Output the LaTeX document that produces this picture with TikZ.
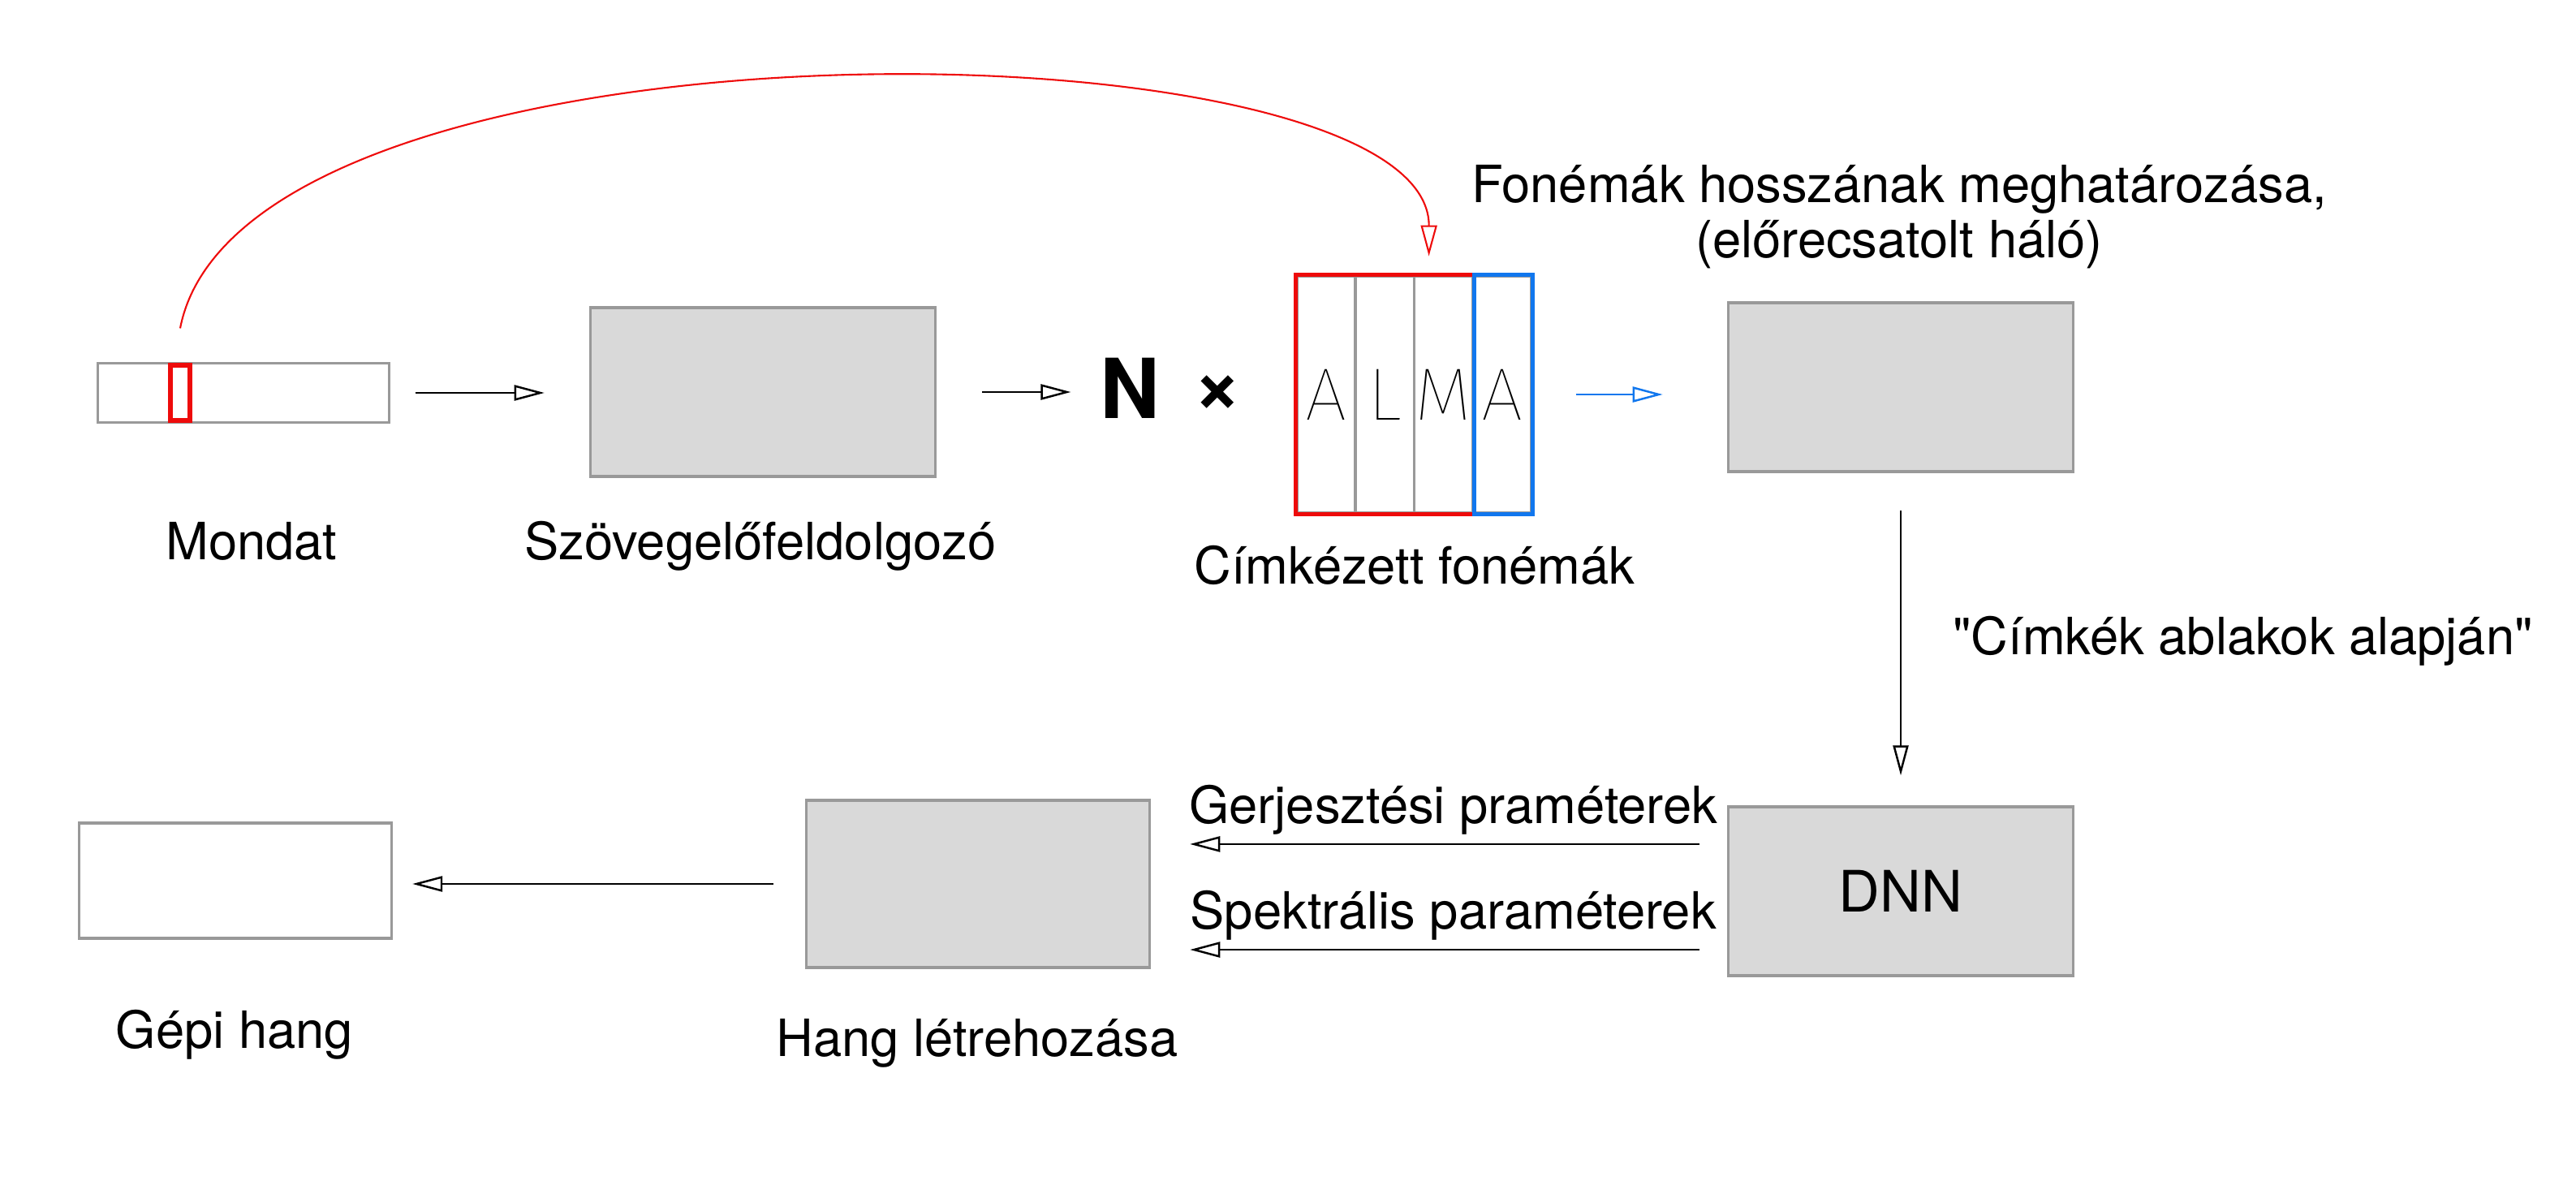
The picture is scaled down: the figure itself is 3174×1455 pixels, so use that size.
\documentclass[tikz,border=0pt]{standalone}
\usepackage{fontspec}
\setmainfont{TeX Gyre Heros}
\newfontfamily\vekonyfont{Fira Sans Thin}
\usetikzlibrary{arrows.meta}
\definecolor{piros}{HTML}{EE0B0B}
\definecolor{kek}{HTML}{1177EE}
\definecolor{keret}{HTML}{999999}
\definecolor{kitoltes}{HTML}{D9D9D9}

\begin{document}
\begin{tikzpicture}[x=0.01cm, y=-0.01cm,
    >={Triangle[open, length=0.37cm, width=0.19cm]},
    doboz/.style={draw=keret, line width=0.9pt, fill=kitoltes, inner sep=0pt,
        minimum width=4.25cm, minimum height=2.08cm},
    ures/.style={draw=keret, line width=0.9pt, fill=white, inner sep=0pt},
    cella/.style={draw=keret, line width=1pt, inner sep=0pt,
        minimum width=0.7225cm, minimum height=2.91cm,
        font=\vekonyfont\fontsize{26}{30}\selectfont},
    felirat/.style={anchor=base, font=\fontsize{18}{19.6}\selectfont},
    nyilfel/.style={above, inner sep=3pt, font=\fontsize{18}{21.6}\selectfont},
    nyil/.style={->, line width=0.7pt}]
    \useasboundingbox (0,0) rectangle (3174,1455);

    % 1. Mondat
    \node[ures, minimum width=3.58cm, minimum height=0.73cm] (mondat) at (300,484) {};
    \node[draw=piros, line width=1.6pt, inner sep=0pt,
        minimum width=0.244cm, minimum height=0.674cm] (betu) at (222,484) {};
    \node[felirat] (mondatfel) at (310,690) {Mondat};

    % 2. Szövegelőfeldolgozó
    \node[doboz] (szoveg) at (940,483) {};
    \node[felirat] (szovegfel) at (937,690) {Szövegelőfeldolgozó};

    % 3. N x
    \node[inner sep=0pt, font=\bfseries\fontsize{29}{34}\selectfont] (n) at (1392,478) {N};
    \node[inner sep=0pt, font=\bfseries\fontsize{29}{34}\selectfont] (szor) at (1500,486) {×};

    % 4. Címkézett fonémák
    \foreach \betu/\nev [count=\i] in {A/a1, L/l, M/m, A/a2}
        \node[cella] (\nev) at ({1598+72.25*(\i-0.5)},486) {\betu};
    \draw[piros, line width=1.5pt] (m.north east) -- (a1.north west)
        -- (a1.south west) -- (m.south east);
    \draw[kek, line width=1.5pt] ([xshift=1pt]a2.north west) rectangle (a2.south east);
    \node[felirat] (cimkefel) at (1743,720) {Címkézett fonémák};

    % 5. Fonémák hossza
    \node[doboz] (fonema) at (2342,477) {};
    \node[felirat, align=center] (fonemafel) at (2340,318)
        {Fonémák hosszának meghatározása,\\(előrecsatolt háló)};

    % 6. DNN
    \node[doboz, font=\fontsize{20}{24}\selectfont] (dnn) at (2342,1098) {DNN};
    \node[felirat, anchor=base west] (ablakfel) at (2394,807)
        {\textquotedbl Címkék ablakok alapján\textquotedbl};

    % 7. Hang létrehozása, Gépi hang
    \node[doboz, minimum width=4.23cm, minimum height=2.06cm] (hang) at (1205,1089) {};
    \node[felirat] (hangfel) at (1204,1301) {Hang létrehozása};
    \node[ures, minimum width=3.85cm, minimum height=1.42cm] (gepi) at (290,1085) {};
    \node[felirat] (gepifel) at (289,1291) {Gépi hang};

    % 8. Nyilak
    \draw[nyil, shorten <=0.31cm, shorten >=0.55cm] (mondat.east) -- (mondat.east -| szoveg.west);
    \draw[nyil, shorten <=0.56cm, shorten >=0.35cm] (szoveg.east) -- (szoveg.east -| n.west);
    \draw[nyil, kek, shorten <=0.53cm, shorten >=0.79cm] (a2.east) -- (a2.east -| fonema.west);
    \draw[nyil, shorten <=0.46cm, shorten >=0.37cm] (fonema.south) -- (dnn.north);
    \draw[nyil, shorten <=0.34cm, shorten >=0.48cm] ([yshift=0.58cm]dnn.west)
        -- ([yshift=0.58cm]dnn.west -| hang.east) node[nyilfel, pos=0.475] {Gerjesztési praméterek};
    \draw[nyil, shorten <=0.34cm, shorten >=0.48cm] ([yshift=-0.72cm]dnn.west)
        -- ([yshift=-0.72cm]dnn.west -| hang.east) node[nyilfel, pos=0.475] {Spektrális paraméterek};
    \draw[nyil, shorten <=0.39cm, shorten >=0.24cm] (hang.west) -- (hang.west -| gepi.east);

    % 9. Piros ív
    \coordinate (indul) at ([yshift=0.43cm]betu.north);
    \coordinate (cel) at ([xshift=-0.18cm, yshift=0.23cm]m.north);
    \draw[piros, line width=0.6pt, ->, >={Triangle[open, length=0.38cm, width=0.2cm]}]
        (indul) .. controls (300,0) and (1761,20) .. (cel);
\end{tikzpicture}
\end{document}
